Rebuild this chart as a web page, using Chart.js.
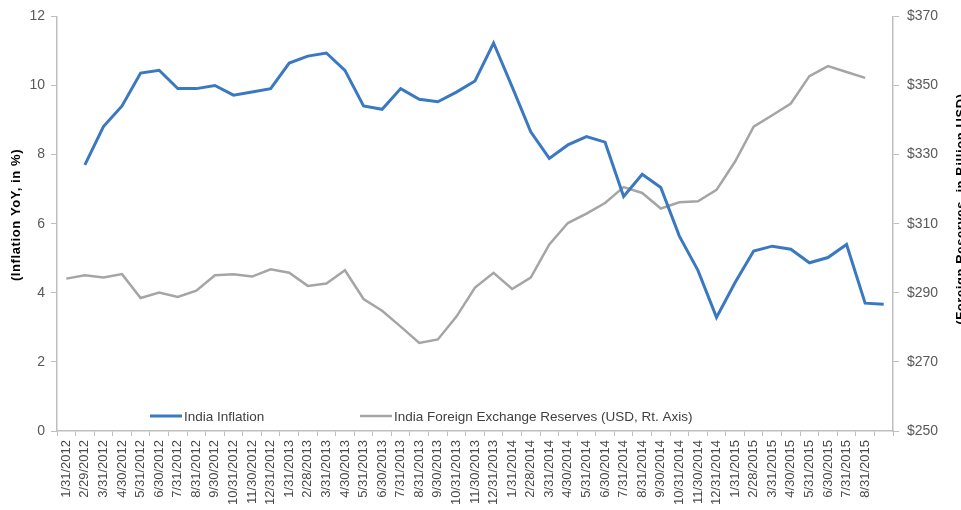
<!DOCTYPE html>
<html>
<head>
<meta charset="utf-8">
<script src="https://cdn.jsdelivr.net/npm/chart.js@4/dist/chart.umd.min.js"></script>
<style>
  html, body { margin: 0; padding: 0; background: #fff; overflow: hidden; }
  #wrap { position: relative; width: 961px; height: 510px; }
</style>
</head>
<body>
<div id="wrap"><canvas id="c" width="961" height="510"></canvas></div>
<script>
// Month-end dates, Jan 2012 – Sep 2015
const categories = [
  '1/31/2012','2/29/2012','3/31/2012','4/30/2012','5/31/2012','6/30/2012','7/31/2012','8/31/2012','9/30/2012','10/31/2012','11/30/2012','12/31/2012',
  '1/31/2013','2/28/2013','3/31/2013','4/30/2013','5/31/2013','6/30/2013','7/31/2013','8/31/2013','9/30/2013','10/31/2013','11/30/2013','12/31/2013',
  '1/31/2014','2/28/2014','3/31/2014','4/30/2014','5/31/2014','6/30/2014','7/31/2014','8/31/2014','9/30/2014','10/31/2014','11/30/2014','12/31/2014',
  '1/31/2015','2/28/2015','3/31/2015','4/30/2015','5/31/2015','6/30/2015','7/31/2015','8/31/2015','9/30/2015'
];

// India CPI inflation, YoY %
const inflation = [
  null, 7.70, 8.81, 9.41, 10.36, 10.44, 9.91, 9.91, 10.00, 9.72, 9.81, 9.91,
  10.65, 10.85, 10.94, 10.44, 9.41, 9.31, 9.91, 9.60, 9.53, 9.81, 10.13, 11.23,
  9.96, 8.66, 7.89, 8.28, 8.52, 8.36, 6.79, 7.43, 7.05, 5.64, 4.65, 3.29,
  4.30, 5.21, 5.35, 5.26, 4.87, 5.02, 5.40, 3.70, 3.67
];

// India foreign exchange reserves, billion USD
const reserves = [
  294.1, 295.1, 294.4, 295.4, 288.5, 290.1, 288.8, 290.6, 295.1, 295.4, 294.7, 296.8,
  295.8, 292.0, 292.7, 296.5, 288.2, 284.8, 280.2, 275.5, 276.5, 283.1, 291.5, 295.8,
  291.1, 294.4, 304.0, 310.2, 312.9, 316.0, 320.6, 318.9, 314.4, 316.2, 316.5, 319.8,
  328.0, 338.1, 341.4, 344.8, 352.7, 355.6, 353.9, 352.2, null
];

const seriesNames = ['India Inflation', 'India Foreign Exchange Reserves (USD, Rt. Axis)'];
const leftTitle = '(Inflation YoY, in %)';
const rightTitle = '(Foreign Reserves, in Billion USD)';

const BLUE = '#3B78C2';
const GREY = '#A5A5A5';
const AXIS = '#BFBFBF';
const TXT = '#595959';
const FONT = '"Liberation Sans", Arial, sans-serif';

// Axis titles and the in-plot legend
const decor = {
  id: 'decor',
  afterDraw(chart) {
    const { ctx, chartArea } = chart;
    ctx.save();
    ctx.fillStyle = '#000';
    ctx.font = 'bold 13px ' + FONT;
    ctx.letterSpacing = '0.6px';
    ctx.textAlign = 'center';
    ctx.textBaseline = 'alphabetic';

    ctx.save();
    ctx.translate(20, 215);
    ctx.rotate(-Math.PI / 2);
    ctx.fillText(leftTitle, 0, 0);
    ctx.restore();

    ctx.save();
    ctx.translate(965, 209);
    ctx.rotate(-Math.PI / 2);
    ctx.fillText(rightTitle, 0, 0);
    ctx.restore();

    // legend
    ctx.letterSpacing = '0px';
    const ly = chartArea.bottom - 15;
    const items = [
      { x: 150, color: BLUE, w: 3, text: seriesNames[0] },
      { x: 360, color: GREY, w: 2.5, text: seriesNames[1] }
    ];
    ctx.font = '13.5px ' + FONT;
    ctx.textAlign = 'left';
    ctx.textBaseline = 'middle';
    items.forEach(it => {
      ctx.strokeStyle = it.color;
      ctx.lineWidth = it.w;
      ctx.beginPath();
      ctx.moveTo(it.x, ly);
      ctx.lineTo(it.x + 32, ly);
      ctx.stroke();
      ctx.fillStyle = '#404040';
      ctx.fillText(it.text, it.x + 34, ly + 1);
    });
    ctx.restore();
  }
};

new Chart(document.getElementById('c'), {
  type: 'line',
  data: {
    labels: categories,
    datasets: [
      {
        label: seriesNames[0],
        data: inflation,
        yAxisID: 'y',
        borderColor: BLUE,
        borderWidth: 3,
        pointRadius: 0,
        tension: 0,
        spanGaps: false
      },
      {
        label: seriesNames[1],
        data: reserves,
        yAxisID: 'y1',
        borderColor: GREY,
        borderWidth: 2.5,
        pointRadius: 0,
        tension: 0
      }
    ]
  },
  options: {
    responsive: false,
    animation: false,
    events: [],
    layout: { padding: { top: 14, right: 0, left: 0, bottom: 0 } },
    plugins: {
      legend: { display: false },
      tooltip: { enabled: false },
      title: { display: false }
    },
    scales: {
      x: {
        type: 'category',
        offset: true,
        border: { color: AXIS, width: 1.5 },
        grid: { display: true, drawOnChartArea: false, drawTicks: true, tickLength: 5, offset: true, color: AXIS, lineWidth: 1 },
        ticks: {
          autoSkip: false,
          maxRotation: 90,
          minRotation: 90,
          padding: 4,
          color: '#4a4a4a',
          font: { family: FONT, size: 13 },
          callback: (v, i) => (i === categories.length - 1 ? '' : categories[i])
        },
        afterFit: s => { s.height = 79; }
      },
      y: {
        position: 'left',
        min: 0,
        max: 12,
        border: { color: AXIS, width: 1.5 },
        grid: { display: true, drawOnChartArea: false, drawTicks: true, tickLength: 6, color: AXIS },
        ticks: { stepSize: 2, padding: 6, color: TXT, font: { family: FONT, size: 14 } },
        afterFit: s => { s.width = 57; }
      },
      y1: {
        position: 'right',
        min: 250,
        max: 370,
        border: { color: AXIS, width: 1.5 },
        grid: { display: true, drawOnChartArea: false, drawTicks: true, tickLength: 6, color: AXIS },
        ticks: {
          stepSize: 20,
          padding: 8,
          color: TXT,
          font: { family: FONT, size: 14 },
          callback: v => '$' + v
        },
        afterFit: s => { s.width = 68; }
      }
    }
  },
  plugins: [decor]
});
</script>
</body>
</html>
